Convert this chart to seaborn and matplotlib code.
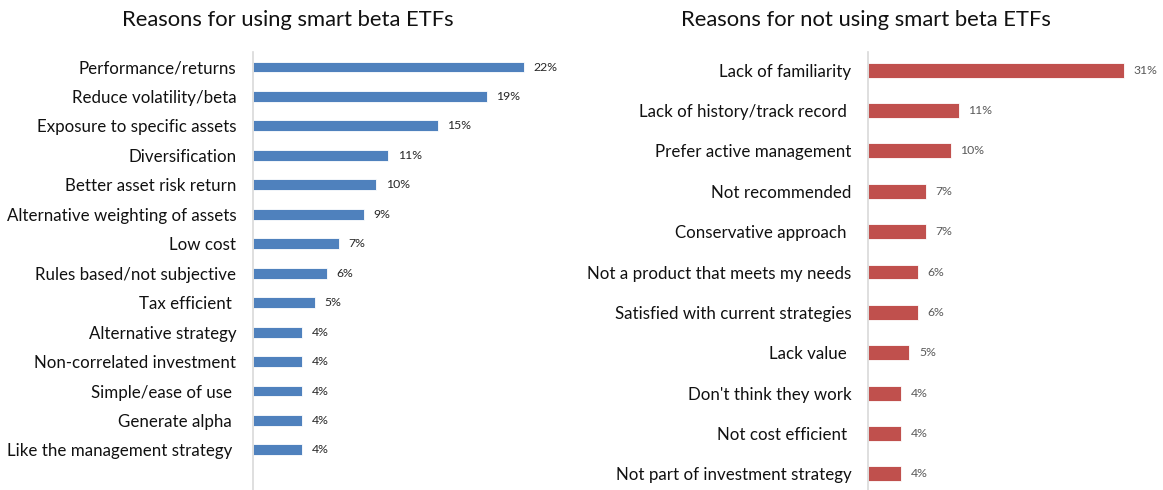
import matplotlib
matplotlib.use("Agg")
import matplotlib.pyplot as plt
import seaborn as sns

# reasons for using
use_labels = ["Performance/returns", "Reduce volatility/beta", "Exposure to specific assets",
              "Diversification", "Better asset risk return", "Alternative weighting of assets",
              "Low cost", "Rules based/not subjective", "Tax efficient ", "Alternative strategy",
              "Non-correlated investment", "Simple/ease of use ", "Generate alpha ",
              "Like the management strategy "]
use_values = [22, 19, 15, 11, 10, 9, 7, 6, 5, 4, 4, 4, 4, 4]

# reasons for not using
not_labels = ["Lack of familiarity", "Lack of history/track record ", "Prefer active management",
              "Not recommended", "Conservative approach ", "Not a product that meets my needs",
              "Satisfied with current strategies", "Lack value ", "Don't think they work",
              "Not cost efficient ", "Not part of investment strategy"]
not_values = [31, 11, 10, 7, 7, 6, 6, 5, 4, 4, 4]

sns.set_style("white")
plt.rcParams['font.family'] = ['Lato', 'DejaVu Sans']

W, H = 1163, 490
fig = plt.figure(figsize=(W / 100, H / 100), dpi=100)

def px_axes(left, top, width, bottom):
    return fig.add_axes([left / W, 1 - bottom / H, width / W, (bottom - top) / H])

ax1 = px_axes(253, 52, 25 * 12.3, 490)
ax2 = px_axes(868, 52, 35 * 8.25, 490)

def draw(ax, labels, values, color, xmax, ylim, width, lblcolor):
    sns.barplot(x=values, y=labels, color=color, width=width, ax=ax,
                edgecolor="white", linewidth=0.6, saturation=1)
    ax.bar_label(ax.containers[0], labels=[f"{v}%" for v in values],
                 padding=7, fontsize=8.8, color=lblcolor)
    ax.set_xlim(0, xmax)
    ax.set_ylim(*ylim)
    ax.set_xticks([])
    ax.set_xlabel("")
    ax.set_ylabel("")
    ax.tick_params(axis="y", length=0, pad=12, labelsize=12.2, labelcolor="#111111")
    for s in ["top", "right", "bottom"]:
        ax.spines[s].set_visible(False)
    ax.spines["left"].set_color("#d9d9d9")
    ax.spines["left"].set_linewidth(1.2)

draw(ax1, use_labels, use_values, "#4F81BD", 25, (14.36, -0.51), 0.37, "#262626")
draw(ax2, not_labels, not_values, "#C0504D", 35, (10.4, -0.45), 0.37, "#595959")

fig.text(288 / W, 1 - 20 / H, "Reasons for using smart beta ETFs", ha="center", va="center",
         fontsize=15.8, color="#111111")
fig.text(866 / W, 1 - 20 / H, "Reasons for not using smart beta ETFs", ha="center", va="center",
         fontsize=15.8, color="#111111")

fig.savefig("out.png", dpi=100)
